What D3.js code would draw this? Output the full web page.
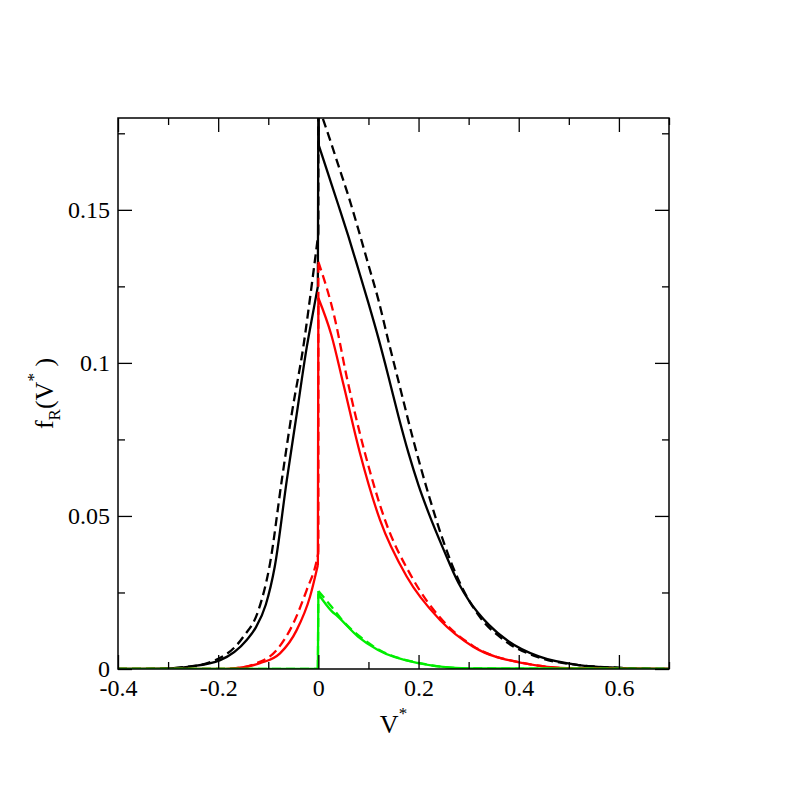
<!DOCTYPE html>
<html>
<head>
<meta charset="utf-8">
<script src="https://cdn.jsdelivr.net/npm/d3@7"></script>
<style>
  body { margin: 0; background: #fff; }
  svg, svg text { font-family: "Times New Roman", "Liberation Serif", Times, serif; }
</style>
</head>
<body>
<div id="chart"></div>
<script>
const margin = { top: 118, left: 118, right: 119, bottom: 119 }
const height = 788
const width = 788
const serif = 'Times New Roman'

// x ticks / y ticks
const xMajor = [-0.4, -0.2, 0, 0.2, 0.4, 0.6]
const xMinor = [-0.3, -0.1, 0.1, 0.3, 0.5, 0.7]
const yMajor = [0, 0.05, 0.1, 0.15]
const yMinor = [0.025, 0.075, 0.125, 0.175]

// black: simulation (solid) and theory (dashed)
const blackSolid = [
  [-0.4, 0], [-0.3, 0.0002], [-0.256, 0.0008], [-0.196, 0.0029], [-0.143, 0.0095],
  [-0.125, 0.0135], [-0.105, 0.021], [-0.087, 0.0335], [-0.063, 0.0617], [-0.043, 0.0835],
  [-0.023, 0.1053], [-0.01, 0.117], [-0.001, 0.125], [0, 0.19], [0.001, 0.171],
  [0.02, 0.1615], [0.04, 0.1515], [0.06, 0.1413], [0.08, 0.1305], [0.1, 0.1195],
  [0.12, 0.108], [0.14, 0.0955], [0.16, 0.0825], [0.18, 0.0705], [0.2, 0.06],
  [0.22, 0.051], [0.25, 0.039], [0.28, 0.028], [0.3, 0.0225], [0.34, 0.0145],
  [0.38, 0.009], [0.44, 0.0041], [0.52, 0.0013], [0.6, 0.0004], [0.7, 0]
]
const blackDashed = [
  [-0.4, 0], [-0.3, 0.0002], [-0.27, 0.0006], [-0.22, 0.002], [-0.15, 0.0105],
  [-0.12, 0.019], [-0.0965, 0.0345], [-0.073, 0.0617], [-0.053, 0.0835],
  [-0.03, 0.1053], [-0.012, 0.127], [0, 0.1423], [0, 0.184],
  [0.02, 0.1745], [0.04, 0.1645], [0.06, 0.1545], [0.08, 0.1435], [0.1, 0.132],
  [0.12, 0.1205], [0.14, 0.107], [0.16, 0.094], [0.19, 0.0745], [0.22, 0.057],
  [0.25, 0.0415], [0.28, 0.029], [0.32, 0.0175], [0.37, 0.0095], [0.44, 0.0038],
  [0.52, 0.0013], [0.62, 0.0003], [0.7, 0]
]

// red
const redSolid = [
  [-0.4, 0], [-0.2, 0], [-0.17, 0.0002], [-0.1165, 0.0019], [-0.0766, 0.0051],
  [-0.0433, 0.0127], [-0.0167, 0.0236], [-0.001, 0.034], [0, 0.1212],
  [0.0258, 0.1092], [0.05, 0.093], [0.0831, 0.0705], [0.123, 0.0487],
  [0.1763, 0.0302], [0.2428, 0.016], [0.309, 0.0073], [0.409, 0.0019],
  [0.509, 0.0002], [0.7, 0]
]
const redDashed = [
  [-0.4, 0], [-0.2, 0], [-0.17, 0.0002], [-0.123, 0.0019], [-0.0832, 0.0062],
  [-0.05, 0.0149], [-0.0233, 0.0258], [-0.003, 0.0356], [0, 0.038], [0, 0.133],
  [0.0326, 0.1147], [0.0565, 0.0955], [0.0931, 0.0705], [0.133, 0.0487],
  [0.186, 0.0302], [0.25, 0.0155], [0.31, 0.0074], [0.41, 0.0019],
  [0.51, 0.0002], [0.7, 0]
]

// green
const greenSolid = [
  [-0.4, 0], [-0.001, 0], [0, 0.0245], [0.026, 0.019], [0.039, 0.0171],
  [0.079, 0.0106], [0.119, 0.0062], [0.199, 0.0019], [0.299, 0.0002], [0.7, 0]
]
const greenDashed = [
  [-0.4, 0], [-0.001, 0], [0, 0.0255], [0.026, 0.0204], [0.05, 0.0155],
  [0.08, 0.011], [0.12, 0.0064], [0.2, 0.002], [0.3, 0.0002], [0.7, 0]
]

const svg = d3
  .select('#chart')
  .append('svg')
  .attr('height', height)
  .attr('width', width)
  .attr('font-family', serif)

const w = width - margin.left - margin.right
const h = height - margin.top - margin.bottom

const g = svg.append('g').attr('transform', `translate(${margin.left},${margin.top})`)

const x = d3.scaleLinear().domain([-0.4, 0.7]).range([0, w])
const y = d3.scaleLinear().domain([0, 0.18]).range([h, 0])

g.append('clipPath')
  .attr('id', 'clip')
  .append('rect')
  .attr('width', w)
  .attr('height', h)

const smooth = d3
  .line()
  .x(d => x(d[0]))
  .y(d => y(d[1]))
  .curve(d3.curveMonotoneX)

// split a series at the jumps near V*=0 so each side is smoothed on its own
function pieces(data) {
  const out = []
  let cur = [data[0]]
  for (let i = 1; i < data.length; i++) {
    const a = data[i - 1], b = data[i]
    if (b[0] - a[0] < 0.0015 && Math.abs(b[1] - a[1]) > 0.004) {
      out.push(cur)
      out.push([a, b])
      cur = [b]
    } else {
      cur.push(b)
    }
  }
  out.push(cur)
  return out.filter(p => p.length > 1)
}

function pathFor(data) {
  const p = d3.path()
  smooth.context(p)
  pieces(data).forEach(seg => smooth(seg))
  smooth.context(null)
  return p.toString()
}

const series = [
  { data: blackSolid, color: '#000', dash: null },
  { data: blackDashed, color: '#000', dash: '9,5' },
  { data: redSolid, color: '#ff0000', dash: null },
  { data: redDashed, color: '#ff0000', dash: '9,5' },
  { data: greenSolid, color: '#00ee00', dash: null },
  { data: greenDashed, color: '#00ee00', dash: '9,5' }
]

const plot = g.append('g').attr('clip-path', 'url(#clip)')
series.forEach(s => {
  plot
    .append('path')
    .attr('fill', 'none')
    .attr('stroke', s.color)
    .attr('stroke-width', 2.3)
    .attr('stroke-linejoin', 'round')
    .attr('stroke-dasharray', s.dash)
    .attr('d', pathFor(s.data))
})

// axes, ticks pointing in
const fmt = d => String(d)
function addAxis(axis, transform) {
  const a = g.append('g').attr('transform', transform).call(axis)
  a.attr('font-family', null).attr('font-size', 24)
  a.select('.domain').remove()
  a.selectAll('line').attr('stroke', '#000').attr('stroke-width', 1.3)
  a.selectAll('text').attr('fill', '#000')
  return a
}

addAxis(d3.axisBottom(x).tickValues(xMajor).tickSize(-14).tickPadding(10).tickFormat(fmt), `translate(0,${h})`)
addAxis(d3.axisBottom(x).tickValues(xMinor).tickSize(-7).tickFormat(''), `translate(0,${h})`)
addAxis(d3.axisTop(x).tickValues(xMajor).tickSize(-14).tickFormat(''), 'translate(0,0)')
addAxis(d3.axisTop(x).tickValues(xMinor).tickSize(-7).tickFormat(''), 'translate(0,0)')
addAxis(d3.axisLeft(y).tickValues(yMajor).tickSize(-14).tickPadding(8).tickFormat(fmt), 'translate(0,0)')
addAxis(d3.axisLeft(y).tickValues(yMinor).tickSize(-7).tickFormat(''), 'translate(0,0)')
addAxis(d3.axisRight(y).tickValues(yMajor).tickSize(-14).tickFormat(''), `translate(${w},0)`)
addAxis(d3.axisRight(y).tickValues(yMinor).tickSize(-7).tickFormat(''), `translate(${w},0)`)

g.append('rect')
  .attr('width', w)
  .attr('height', h)
  .attr('fill', 'none')
  .attr('stroke', '#000')
  .attr('stroke-width', 1.5)

// axis labels
const xl = svg
  .append('text')
  .attr('x', margin.left + w / 2)
  .attr('y', 733)
  .attr('text-anchor', 'middle')
  .attr('font-size', 26)
xl.append('tspan').text('V')
xl.append('tspan').attr('font-size', 17).attr('dy', -14).text('*')

const yl = svg
  .append('text')
  .attr('transform', `translate(53,${margin.top + h / 2}) rotate(-90)`)
  .attr('text-anchor', 'middle')
  .attr('font-size', 26)
yl.append('tspan').text('f')
yl.append('tspan').attr('font-size', 17).attr('dy', 7).text('R')
yl.append('tspan').attr('dy', -7).text('(V')
yl.append('tspan').attr('font-size', 17).attr('dy', -14).text('*')
yl.append('tspan').attr('dy', 14).text(' )')
</script>
</body>
</html>
